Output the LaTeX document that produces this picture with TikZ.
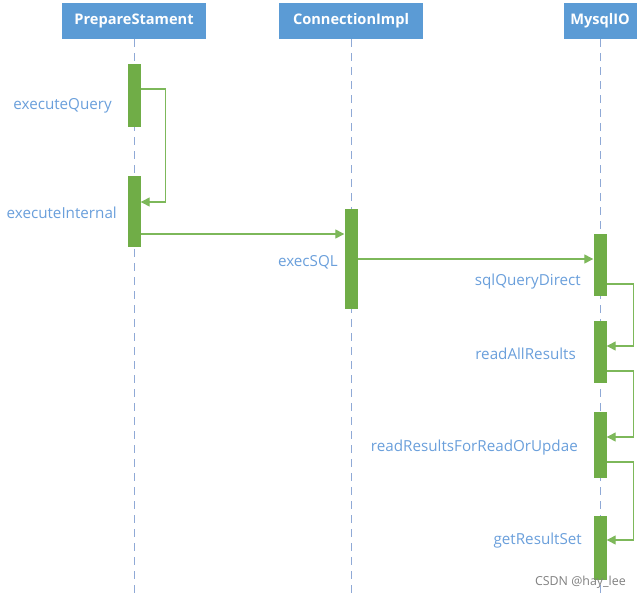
\documentclass[tikz,border=0pt]{standalone}
\usepackage{fontspec}
\setmainfont{Open Sans}
\usepackage{tikz}
\usetikzlibrary{calc, arrows.meta, positioning}
\definecolor{headBlue}{HTML}{5B9BD5}
\definecolor{barGreen}{HTML}{70AD47}
\definecolor{lineGreen}{HTML}{7DB85A}
\definecolor{textBlue}{HTML}{6A9FDB}
\definecolor{lifeGray}{HTML}{8FA9D6}

\begin{document}
\begin{tikzpicture}[x=1pt, y=-1pt,
    head/.style={fill=headBlue, text=white, font=\bfseries\fontsize{14.6}{16}\selectfont,
      minimum height=36pt, inner xsep=0pt, anchor=north},
    bar/.style={fill=barGreen, minimum width=13pt, inner sep=0pt, anchor=north},
    lbl/.style={text=textBlue, font=\fontsize{15.2}{17}\selectfont, anchor=east, inner sep=0pt},
    life/.style={lifeGray, line width=1pt, dash pattern=on 8pt off 6pt},
    msg/.style={lineGreen, line width=1.3pt, -{Triangle[length=9pt, width=9pt]}}]
    \useasboundingbox (0,0) rectangle (641,598);

    % Objects
    \node[head, minimum width=144pt] (PS) at (134,3) {PrepareStament};
    \node[head, minimum width=144pt] (CI) at (351,3) {ConnectionImpl};
    \node[head, minimum width=73pt]  (IO) at (600,3) {MysqlIO};

    % Lifelines
    \coordinate (PSend) at (134,598);
    \coordinate (CIend) at (351,598);
    \coordinate (IOend) at (600,598);
    \draw[life] (PS.south) -- (PSend);
    \draw[life] (CI.south) -- (CIend);
    \draw[life] (IO.south) -- (IOend);

    % Activations
    \node[bar, minimum height=63pt]  (ps1) at (134,64)  {};
    \node[bar, minimum height=71pt]  (ps2) at (134,176) {};
    \node[bar, minimum height=100pt] (ci1) at (351,209) {};
    \node[bar, minimum height=62pt]  (io1) at (600,234) {};
    \node[bar, minimum height=62pt]  (io2) at (600,321) {};
    \node[bar, minimum height=66pt]  (io3) at (600,412) {};
    \node[bar, minimum height=64pt]  (io4) at (600,516) {};

    % Messages
    \coordinate (m1) at ($(ps2.north east)+(0,58)$);
    \coordinate (m2) at ($(ci1.north east)+(0,50)$);
    \draw[msg] ($(ps1.north east)+(0,25)$) -- ++(25,0) |- ($(ps2.north east)+(0,26)$);
    \draw[msg] (m1) -- (m1 -| ci1.west);
    \draw[msg] (m2) -- (m2 -| io1.west);
    \draw[msg] ($(io1.north east)+(0,50)$) -- ++(27,0) |- ($(io2.north east)+(0,25)$);
    \draw[msg] ($(io2.north east)+(0,50)$) -- ++(27,0) |- ($(io3.north east)+(0,25)$);
    \draw[msg] ($(io3.north east)+(0,50)$) -- ++(27,0) |- ($(io4.north east)+(0,24)$);

    % Labels
    \node[lbl] (l1) at (112,106) {executeQuery};
    \node[lbl] (l2) at (117,213) {executeInternal};
    \node[lbl] (l3) at (338,262) {execSQL};
    \node[lbl] (l4) at (581,282) {sqlQueryDirect};
    \node[lbl] (l5) at (576,354) {readAllResults};
    \node[lbl] (l6) at (578,448) {readResultsForReadOrUpdae};
    \node[lbl] (l7) at (582,541) {getResultSet};
    \node[anchor=east, inner sep=0pt, text=gray, font=\fontsize{12.4}{14}\selectfont] (wm) at (626,582) {CSDN @hay\_lee};
\end{tikzpicture}
\end{document}
